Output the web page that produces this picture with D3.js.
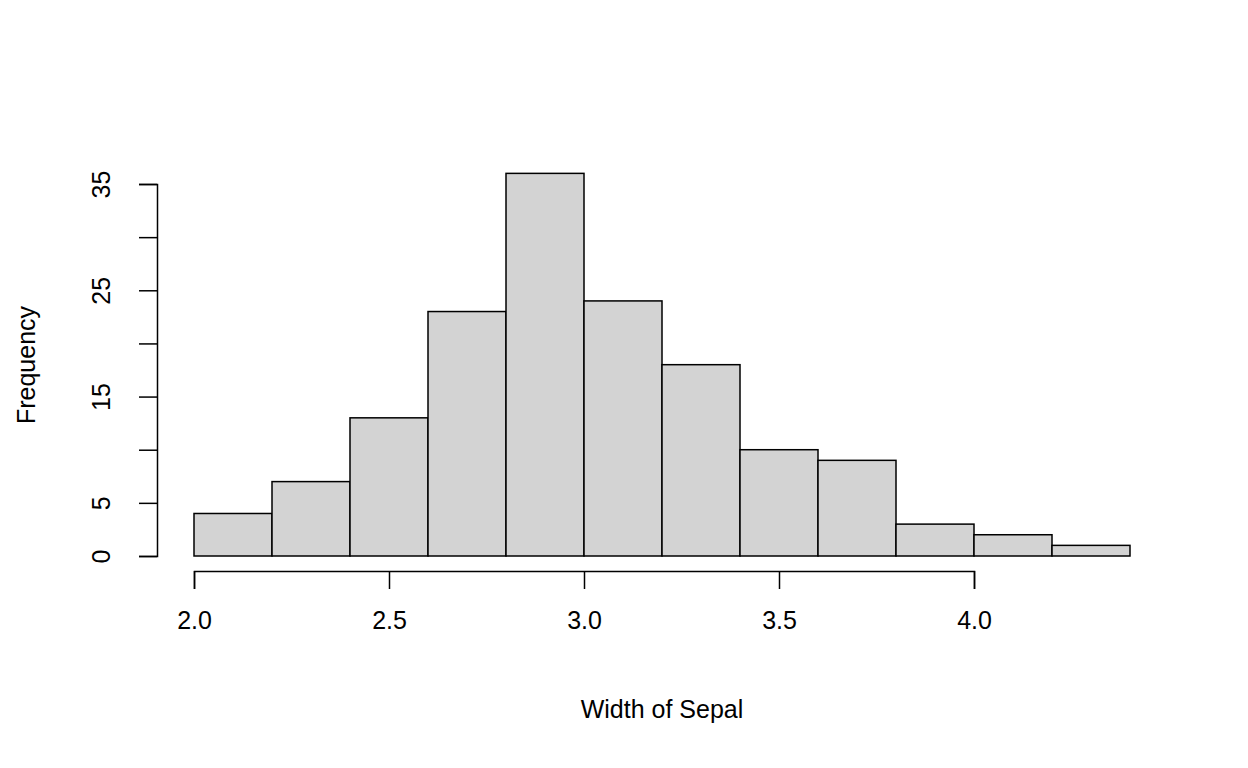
<!DOCTYPE html>
<html><head><meta charset="utf-8">
<script src="https://cdn.jsdelivr.net/npm/d3@7"></script>
<style>body{margin:0;background:#fff}text{font-family:"Liberation Sans",Arial,sans-serif;fill:#000}</style>
</head><body>
<svg id="c" width="1248" height="768"></svg>
<script>
const binStarts = [2.0,2.2,2.4,2.6,2.8,3.0,3.2,3.4,3.6,3.8,4.0,4.2];
const binWidth = 0.2;
const counts = [4,7,13,23,36,24,18,10,9,3,2,1];
const xTicks = [2.0,2.5,3.0,3.5,4.0];
const yTicks = [0,5,10,15,20,25,30,35];
const yLabels = [0,5,15,25,35];

const svg = d3.select("#c");
const x = d3.scaleLinear().domain([2,4]).range([194,974]);
const y = d3.scaleLinear().domain([0,35]).range([556,184]);

svg.selectAll("rect.bar").data(binStarts).enter().append("rect")
  .attr("x", d=>x(d)).attr("width", d=>x(d+binWidth)-x(d))
  .attr("y", (d,i)=>y(counts[i])).attr("height", (d,i)=>y(0)-y(counts[i]))
  .attr("fill","#d3d3d3").attr("stroke","#000").attr("stroke-width",1.5);

const gx = svg.append("g").attr("transform","translate(0,571)")
  .call(d3.axisBottom(x).tickValues(xTicks).tickFormat(d3.format(".1f")).tickSizeOuter(0).tickSize(18).tickPadding(22));
gx.attr("font-size",null).attr("font-family",null);
gx.select(".domain").attr("stroke-width",1.5);
gx.selectAll(".tick line").attr("stroke-width",1.5);
gx.selectAll("text").style("font-size","25px");

const gy = svg.append("g").attr("transform","translate(157,0)")
  .call(d3.axisLeft(y).tickValues(yTicks).tickFormat(d=>yLabels.includes(d)?d:"").tickSizeOuter(0).tickSize(18));
gy.attr("font-size",null).attr("font-family",null);
gy.select(".domain").attr("stroke-width",1.5);
gy.selectAll(".tick line").attr("stroke-width",1.5);
gy.selectAll("text").style("font-size","25px").attr("text-anchor","middle")
  .attr("x",0).attr("y",0).attr("dy","0.35em")
  .attr("transform","translate(-56,0) rotate(-90)");

svg.append("text").attr("x",662).attr("y",718).attr("text-anchor","middle").style("font-size","25px").text("Width of Sepal");
svg.append("text").attr("transform","translate(35,365) rotate(-90)").attr("text-anchor","middle").style("font-size","25px").text("Frequency");
</script>
</body></html>
